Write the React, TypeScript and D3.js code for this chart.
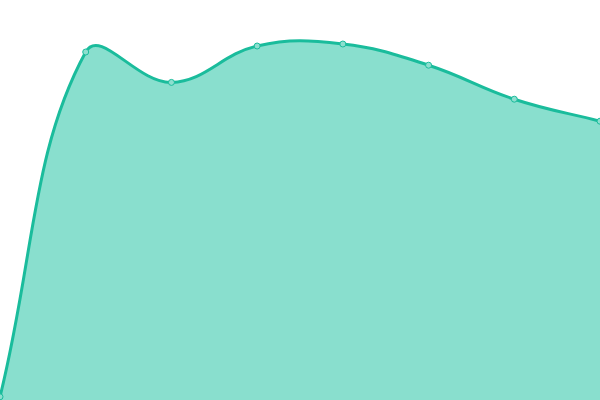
import React from "react";
import * as d3 from "d3";

const labels = ["A", "B", "C", "D", "E", "F", "G", "H"];
const values = [0.8, 87, 79.4, 88.5, 89, 83.7, 75.2, 69.7];

const W = 600;
const H = 400;
const TENSION = 0.4;

type Pt = [number, number];

function splinePath(pts: Pt[], close: boolean): string {
  const p = d3.path();
  const n = pts.length;
  const cps: { prev: Pt; next: Pt }[] = pts.map((cur, i) => {
    const prev = i > 0 ? pts[i - 1] : cur;
    const next = i < n - 1 ? pts[i + 1] : cur;
    const d01 = Math.hypot(cur[0] - prev[0], cur[1] - prev[1]);
    const d12 = Math.hypot(next[0] - cur[0], next[1] - cur[1]);
    let s01 = d01 / (d01 + d12);
    let s12 = d12 / (d01 + d12);
    if (isNaN(s01)) s01 = 0;
    if (isNaN(s12)) s12 = 0;
    const fa = TENSION * s01;
    const fb = TENSION * s12;
    const clampY = (v: number) => Math.max(0, Math.min(H, v));
    const clampX = (v: number) => Math.max(0, Math.min(W, v));
    return {
      prev: [clampX(cur[0] - fa * (next[0] - prev[0])), clampY(cur[1] - fa * (next[1] - prev[1]))],
      next: [clampX(cur[0] + fb * (next[0] - prev[0])), clampY(cur[1] + fb * (next[1] - prev[1]))],
    };
  });
  p.moveTo(pts[0][0], pts[0][1]);
  for (let i = 1; i < n; i++) {
    const a = cps[i - 1].next;
    const b = cps[i].prev;
    p.bezierCurveTo(a[0], a[1], b[0], b[1], pts[i][0], pts[i][1]);
  }
  if (close) {
    p.lineTo(pts[n - 1][0], H);
    p.lineTo(pts[0][0], H);
    p.closePath();
  }
  return p.toString();
}

export default function App() {
  const x = d3.scalePoint<string>().domain(labels).range([0, W]);
  const y = d3.scaleLinear().domain([0, 100]).range([H, 0]);
  const pts: Pt[] = values.map((v, i) => [x(labels[i]) as number, y(v)]);
  return (
    <svg
      width={W}
      height={H}
      style={{ position: "fixed", top: 0, left: 0, display: "block" }}
    >
      <path d={splinePath(pts, true)} fill="#89dfce" />
      <path d={splinePath(pts, false)} fill="none" stroke="#1abc9c" strokeWidth={3} />
      {pts.map((pt, i) => (
        <circle
          key={i}
          cx={pt[0]}
          cy={pt[1]}
          r={3}
          fill="#8ddfcf"
          stroke="#1abc9c"
          strokeWidth={1}
        />
      ))}
    </svg>
  );
}
